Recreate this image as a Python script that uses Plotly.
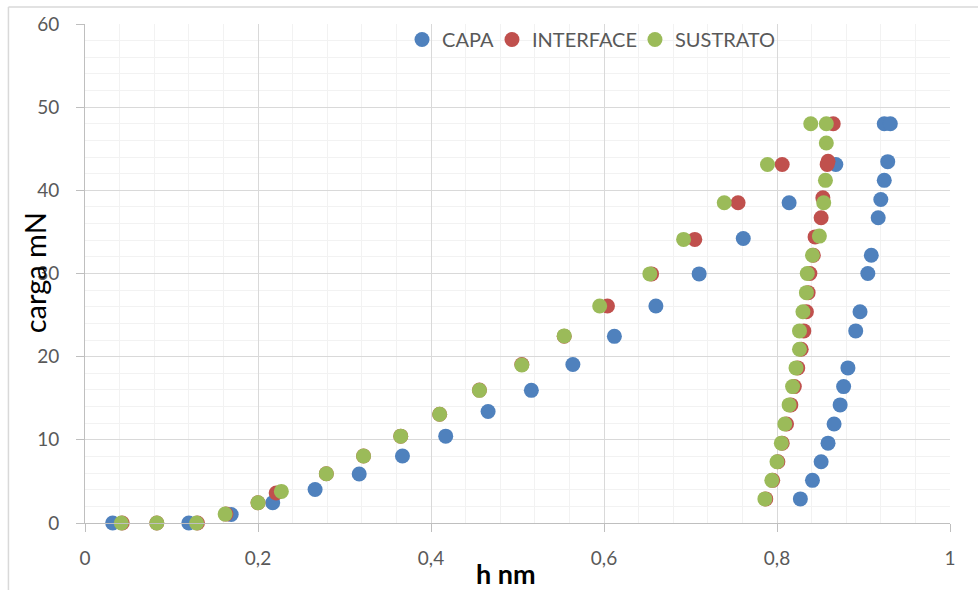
import plotly.graph_objects as go

# ---- data ----
capa_h = [0.032, 0.120, 0.169, 0.217, 0.266, 0.317, 0.367, 0.417, 0.466, 0.516, 0.564, 0.612,
          0.660, 0.710, 0.761, 0.814, 0.868, 0.924, 0.931, 0.928, 0.924, 0.920, 0.917, 0.909,
          0.905, 0.896, 0.891, 0.882, 0.877, 0.873, 0.866, 0.859, 0.851, 0.841, 0.827]
capa_carga = [0, 0, 1.03, 2.43, 4.02, 5.9, 8.05, 10.44, 13.4, 15.95, 19.05, 22.44,
              26.1, 29.95, 34.2, 38.5, 43.1, 48.0, 48.0, 43.45, 41.2, 38.9, 36.7, 32.2,
              30.0, 25.4, 23.1, 18.65, 16.4, 14.2, 11.9, 9.6, 7.37, 5.13, 2.9]

interface_h = [0.043, 0.083, 0.130, 0.163, 0.200, 0.221, 0.279, 0.322, 0.365, 0.410, 0.456, 0.505,
               0.554, 0.604, 0.655, 0.705, 0.755, 0.806, 0.865, 0.859, 0.858, 0.853, 0.851, 0.844,
               0.842, 0.838, 0.836, 0.834, 0.831, 0.828, 0.824, 0.820, 0.816, 0.811, 0.806, 0.801,
               0.795, 0.787]
interface_carga = [0, 0, 0, 1.07, 2.43, 3.6, 5.93, 8.05, 10.44, 13.07, 15.98, 19.05,
                   22.45, 26.1, 29.95, 34.1, 38.5, 43.1, 48.0, 43.5, 43.1, 39.1, 36.7, 34.4,
                   32.2, 30.0, 27.7, 25.4, 23.1, 20.9, 18.65, 16.4, 14.2, 11.9, 9.6, 7.37,
                   5.13, 2.9]

sustrato_h = [0.042, 0.083, 0.129, 0.162, 0.200, 0.227, 0.279, 0.322, 0.365, 0.410, 0.456, 0.505,
              0.554, 0.595, 0.653, 0.692, 0.739, 0.789, 0.839, 0.857, 0.857, 0.856, 0.854, 0.849,
              0.841, 0.835, 0.834, 0.830, 0.826, 0.826, 0.822, 0.818, 0.814, 0.809, 0.805, 0.800,
              0.794, 0.786]
sustrato_carga = [0, 0, 0, 1.07, 2.43, 3.8, 5.93, 8.05, 10.44, 13.07, 15.95, 19.0,
                  22.5, 26.1, 29.95, 34.1, 38.5, 43.1, 48.0, 48.0, 45.7, 41.2, 38.5, 34.5,
                  32.2, 30.0, 27.7, 25.4, 23.1, 20.9, 18.65, 16.4, 14.2, 11.9, 9.6, 7.37,
                  5.13, 2.9]

series_names = ["CAPA", "INTERFACE", "SUSTRATO"]
x_ticks = [0, 0.2, 0.4, 0.6, 0.8, 1]
y_ticks = [0, 10, 20, 30, 40, 50, 60]

colors = ["#4F81BD", "#C0504D", "#9BBB59"]
FONT = "Lato"
GRAY = "#595959"

legend_ids = ["legend", "legend2", "legend3"]
legend_x = [0.3665, 0.4705, 0.6358]

fig = go.Figure()
for name, xs, ys, c, lg in zip(series_names,
                               [capa_h, interface_h, sustrato_h],
                               [capa_carga, interface_carga, sustrato_carga],
                               colors, legend_ids):
    fig.add_trace(go.Scatter(x=xs, y=ys, mode="markers", name=name, legend=lg,
                             marker=dict(size=15, color=c, line=dict(width=0)),
                             cliponaxis=False))

axis_common = dict(showline=True, linecolor="#BFBFBF", linewidth=1,
                   ticks="outside", ticklen=8, tickcolor="#BFBFBF",
                   gridcolor="#D9D9D9", gridwidth=1, zeroline=False,
                   tickfont=dict(family=FONT, size=19, color=GRAY))

fig.update_xaxes(range=[0, 1], tickvals=x_ticks, ticklabelstandoff=10,
                 minor=dict(dtick=0.04, showgrid=True, gridcolor="#F2F2F2", ticks=""),
                 **axis_common)
fig.update_yaxes(range=[0, 60], tickvals=y_ticks, ticklabelstandoff=13,
                 minor=dict(dtick=2, showgrid=True, gridcolor="#F2F2F2", ticks=""),
                 **axis_common)

legend_style = dict(orientation="h", y=1.008, xanchor="left", yanchor="top",
                    bgcolor="rgba(0,0,0,0)", font=dict(family=FONT, size=20, color=GRAY),
                    itemwidth=30)

fig.update_layout(
    width=978, height=590,
    margin=dict(l=85, r=28, t=21, b=67),
    paper_bgcolor="white", plot_bgcolor="white",
    separators=", ",
    showlegend=True,
    legend=dict(x=legend_x[0], **legend_style),
    legend2=dict(x=legend_x[1], **legend_style),
    legend3=dict(x=legend_x[2], **legend_style),
    font=dict(family=FONT),
    annotations=[
        dict(text="<b>h nm</b>", xref="paper", yref="paper", x=0.487, y=-0.101,
             showarrow=False, xanchor="center", yanchor="middle",
             font=dict(family=FONT, size=27, color="black")),
        dict(text="carga mN", xref="paper", yref="paper", x=-0.058, y=0.502,
             showarrow=False, xanchor="center", yanchor="middle", textangle=-90,
             font=dict(family=FONT, size=29, color="black")),
    ],
    shapes=[
        dict(type="line", xref="paper", yref="paper", x0=-0.0885, x1=1.1, y0=1.034, y1=1.034,
             line=dict(color="#D9D9D9", width=1.5)),
        dict(type="line", xref="paper", yref="paper", x0=-0.0885, x1=-0.0885, y0=1.034, y1=-0.2,
             line=dict(color="#D9D9D9", width=1.5)),
    ],
)

fig.write_html("out.html", config={"displayModeBar": False},
               post_script="document.body.style.margin='0';")
